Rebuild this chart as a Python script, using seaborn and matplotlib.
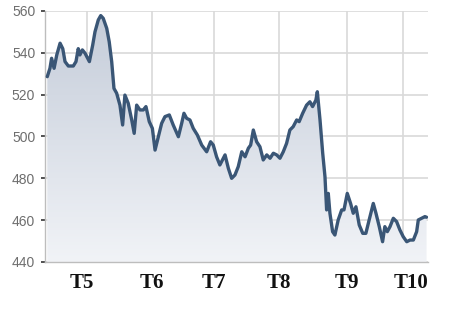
import numpy as np
import pandas as pd
import matplotlib
matplotlib.use("Agg")
import matplotlib.pyplot as plt
import matplotlib.transforms as mtransforms
import seaborn as sns
from matplotlib.colors import LinearSegmentedColormap

# ---- data ----
day = [1.1, 2.4, 3.2, 4.4, 5.7, 7.3, 8.6, 9.7, 11.3, 13.7, 15.0, 16.1, 16.9, 18.1, 19.4,
       21.5, 23.1, 24.2, 25.8, 27.0, 28.2, 29.9, 31.1, 32.3, 33.4, 34.7, 36.3, 37.6, 38.7,
       40.3, 42.0, 43.2, 44.4, 46.0, 47.6, 48.9, 50.5, 52.0, 53.3, 54.9, 56.5, 58.1, 60.2,
       62.1, 64.6, 66.2, 67.3, 68.6, 70.2, 71.8, 73.8, 75.9, 78.3, 80.2, 81.5, 83.1, 84.7,
       87.2, 88.8, 90.4, 92.0, 93.6, 95.3, 96.9, 98.5, 99.6, 100.9, 102.5, 104.1, 105.7,
       107.4, 109.0, 110.6, 112.2, 113.8, 115.4, 117.0, 118.6, 120.2, 121.9, 123.1, 124.8,
       126.7, 128.3, 129.6, 131.2, 131.9, 133.2, 134.5, 135.6, 136.4, 137.2, 138.0, 139.3,
       140.4, 142.0, 143.7, 144.8, 146.4, 148.0, 149.3, 150.6, 152.2, 153.9, 155.4, 157.0,
       159.0, 160.3, 161.9, 163.5, 164.6, 165.8, 167.1, 168.7, 170.3, 171.9, 173.5, 175.2,
       176.8, 178.4, 180.0, 180.8, 182.4, 184.0, 184.8]
value = [528.6, 532.6, 537.4, 532.6, 539.0, 544.6, 542.0, 535.8, 533.7, 533.7, 535.8, 542.0,
         539.0, 541.4, 539.8, 535.8, 543.7, 550.0, 555.7, 557.8, 556.5, 551.7, 545.3, 535.8,
         523.0, 520.7, 515.0, 505.5, 519.8, 515.9, 507.9, 501.5, 515.0, 512.7, 512.7, 514.3,
         507.1, 503.9, 493.5, 499.9, 506.3, 509.5, 510.3, 505.5, 499.9, 506.3, 511.1, 508.7,
         507.9, 503.9, 500.7, 495.9, 492.7, 497.5, 495.9, 490.3, 486.4, 491.2, 484.8, 480.0,
         481.6, 485.6, 492.7, 490.3, 494.4, 495.9, 503.1, 497.5, 495.1, 488.8, 491.2, 489.6,
         492.0, 491.2, 489.6, 492.7, 496.7, 503.1, 504.7, 507.9, 507.1, 511.1, 515.0, 516.6,
         514.3, 517.4, 521.4, 507.9, 492.0, 480.8, 464.9, 472.8, 463.3, 454.5, 452.9, 460.1,
         464.9, 464.9, 472.8, 468.0, 463.3, 466.4, 457.7, 453.7, 453.7, 460.1, 468.0, 463.3,
         456.9, 449.7, 456.9, 454.5, 456.9, 460.9, 459.3, 455.3, 452.1, 449.7, 450.5, 450.5,
         454.5, 460.1, 460.9, 461.7, 461.4]
month_labels = ["T5", "T6", "T7", "T8", "T9", "T10"]
month_pos = [20.3, 51.8, 81.8, 113.3, 146.2, 173.4]
y_ticks = [440, 460, 480, 500, 520, 540, 560]

df = pd.DataFrame({"day": day, "value": value})

sns.set_theme(style="white")
plt.rcParams["font.family"] = ["Liberation Sans", "DejaVu Sans"]

fig = plt.figure(figsize=(4.5, 3.21), dpi=100, facecolor="white")
ax = fig.add_axes([45 / 450, 1 - 262 / 321, (428 - 45) / 450, (262 - 11) / 321])
ax.set_facecolor("white")

x0, x1 = 0, 185.5
ymin, ymax = 440, 560

# gradient area under the line
fb = ax.fill_between(df["day"], df["value"], ymin, color="none", lw=0, zorder=1)
cmap = LinearSegmentedColormap.from_list("g", ["#f1f3f7", "#c4ccd9"])
grad = np.linspace(0, 1, 256).reshape(-1, 1)
im = ax.imshow(grad, cmap=cmap, origin="lower", aspect="auto",
               extent=[x0, x1, ymin, ymax], zorder=1)
im.set_clip_path(fb.get_paths()[0], transform=ax.transData)

# grid
for yv in y_ticks:
    ax.axhline(yv, color="#d9d9d9", lw=1.2, zorder=0.5)
for xv in month_pos:
    ax.axvline(xv, color="#d9d9d9", lw=1.2, zorder=0.5)
ax.grid(False)

sns.lineplot(data=df, x="day", y="value", ax=ax, color="#3a5676", lw=2.4,
             zorder=3, estimator=None, sort=False)

ax.set_xlim(x0, x1)
ax.set_ylim(ymin, ymax)
ax.set_xticks(month_pos)
ax.set_xticklabels(month_labels, fontfamily="Liberation Serif", fontweight="bold",
                   fontsize=15, color="#111111")
ax.set_yticks(y_ticks)
ax.set_yticklabels([str(v) for v in y_ticks], fontsize=10, color="#6e6e6e")
ax.tick_params(axis="y", length=3, width=1.2, color="#333333", pad=4, left=True)
ax.tick_params(axis="x", length=0, pad=8)
ax.set_xlabel("")
ax.set_ylabel("")

# small label nudges as in the reference
labels = ax.get_xticklabels()
labels[0].set_transform(labels[0].get_transform() +
                        mtransforms.ScaledTranslation(-5 / 100, 0, fig.dpi_scale_trans))
labels[-1].set_transform(labels[-1].get_transform() +
                         mtransforms.ScaledTranslation(8 / 100, 0, fig.dpi_scale_trans))

for s in ["top", "right"]:
    ax.spines[s].set_visible(False)
for s in ["left", "bottom"]:
    ax.spines[s].set_color("#bdbdbd")
    ax.spines[s].set_linewidth(1.0)

fig.savefig("out.png", dpi=100, facecolor="white")
